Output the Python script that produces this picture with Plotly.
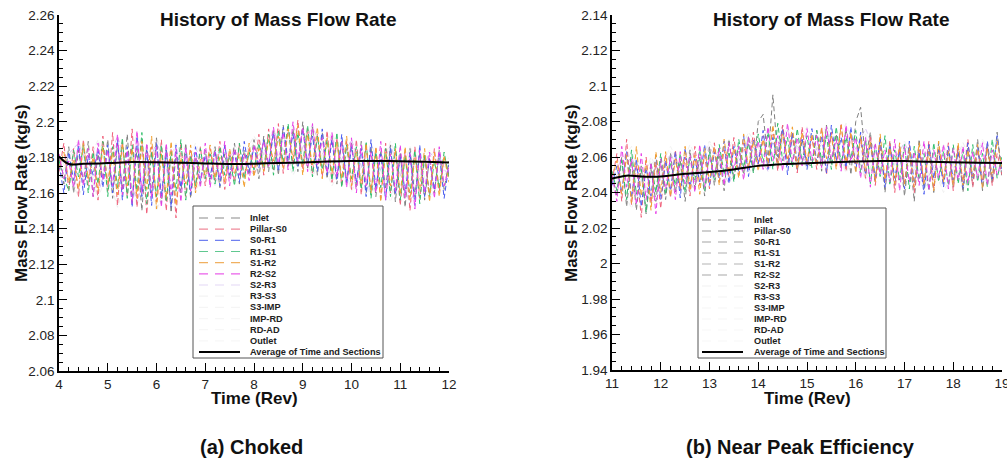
import numpy as np
import plotly.graph_objects as go

# ---------------- data ----------------
sections = ["Inlet", "Pillar-S0", "S0-R1", "R1-S1", "S1-R2", "R2-S2",
            "S2-R3", "R3-S3", "S3-IMP", "IMP-RD", "RD-AD", "Outlet"]
avg_name = "Average of Time and Sections"

# (a) Choked : time 4..12 rev, fine samples every 0.1 rev
t_a = np.linspace(4.0, 12.0, 81)
t_a_coarse = np.linspace(4.0, 12.0, 21)

a_inlet = [2.180, 2.165, 2.186, 2.160, 2.184, 2.166, 2.189, 2.158, 2.182, 2.168, 2.190,
           2.157, 2.188, 2.162, 2.193, 2.155, 2.185, 2.150, 2.187, 2.160, 2.191,
           2.154, 2.186, 2.149, 2.183, 2.160, 2.188, 2.157, 2.180, 2.165, 2.184,
           2.166, 2.186, 2.163, 2.182, 2.168, 2.188, 2.165, 2.184, 2.170, 2.190,
           2.168, 2.192, 2.172, 2.195, 2.170, 2.198, 2.175, 2.196, 2.172, 2.200,
           2.174, 2.197, 2.170, 2.194, 2.168, 2.192, 2.165, 2.190, 2.166, 2.188,
           2.163, 2.189, 2.160, 2.186, 2.158, 2.184, 2.162, 2.187, 2.155, 2.183,
           2.152, 2.185, 2.158, 2.182, 2.156, 2.180, 2.160, 2.184, 2.162, 2.178]
a_pillar = [2.172, 2.188, 2.162, 2.185, 2.158, 2.190, 2.164, 2.186, 2.156, 2.192, 2.161,
            2.194, 2.153, 2.189, 2.158, 2.196, 2.152, 2.190, 2.148, 2.186, 2.155,
            2.190, 2.150, 2.185, 2.146, 2.188, 2.158, 2.184, 2.162, 2.186, 2.164,
            2.185, 2.167, 2.189, 2.162, 2.183, 2.166, 2.187, 2.169, 2.185, 2.171,
            2.193, 2.170, 2.196, 2.173, 2.199, 2.171, 2.197, 2.176, 2.201, 2.173,
            2.196, 2.171, 2.193, 2.169, 2.195, 2.166, 2.191, 2.164, 2.189, 2.162,
            2.190, 2.159, 2.187, 2.161, 2.185, 2.157, 2.188, 2.160, 2.184, 2.153,
            2.183, 2.150, 2.186, 2.157, 2.181, 2.159, 2.185, 2.161, 2.180, 2.170]
a_s0r1 = [2.176, 2.160, 2.183, 2.167, 2.187, 2.159, 2.181, 2.170, 2.185, 2.163, 2.187,
          2.160, 2.190, 2.156, 2.186, 2.152, 2.192, 2.158, 2.184, 2.153, 2.188,
          2.158, 2.184, 2.152, 2.187, 2.163, 2.182, 2.159, 2.186, 2.167, 2.181,
          2.169, 2.184, 2.164, 2.187, 2.170, 2.183, 2.166, 2.189, 2.172, 2.186,
          2.174, 2.190, 2.176, 2.194, 2.172, 2.197, 2.178, 2.193, 2.175, 2.196,
          2.177, 2.192, 2.172, 2.196, 2.170, 2.190, 2.167, 2.193, 2.165, 2.186,
          2.166, 2.185, 2.158, 2.190, 2.162, 2.182, 2.156, 2.186, 2.159, 2.181,
          2.160, 2.183, 2.153, 2.187, 2.158, 2.179, 2.162, 2.182, 2.157, 2.176]
a_r1s1 = [2.178, 2.170, 2.161, 2.184, 2.169, 2.187, 2.160, 2.183, 2.165, 2.189, 2.158,
          2.186, 2.163, 2.191, 2.157, 2.187, 2.161, 2.194, 2.154, 2.183, 2.158,
          2.187, 2.155, 2.183, 2.161, 2.190, 2.156, 2.181, 2.164, 2.185, 2.168,
          2.182, 2.165, 2.186, 2.170, 2.181, 2.164, 2.188, 2.168, 2.183, 2.173,
          2.188, 2.174, 2.193, 2.170, 2.195, 2.177, 2.199, 2.172, 2.194, 2.176,
          2.198, 2.169, 2.192, 2.173, 2.190, 2.167, 2.194, 2.163, 2.187, 2.168,
          2.186, 2.162, 2.189, 2.157, 2.183, 2.163, 2.185, 2.158, 2.188, 2.156,
          2.181, 2.160, 2.184, 2.154, 2.182, 2.158, 2.178, 2.163, 2.183, 2.168]
a_s1r2 = [2.174, 2.183, 2.166, 2.179, 2.162, 2.188, 2.168, 2.180, 2.161, 2.186, 2.166,
          2.183, 2.159, 2.188, 2.164, 2.185, 2.157, 2.189, 2.162, 2.192, 2.151,
          2.182, 2.157, 2.189, 2.153, 2.180, 2.165, 2.187, 2.160, 2.179, 2.170,
          2.187, 2.168, 2.180, 2.166, 2.185, 2.171, 2.182, 2.163, 2.188, 2.169,
          2.185, 2.172, 2.190, 2.178, 2.192, 2.174, 2.196, 2.179, 2.198, 2.170,
          2.193, 2.175, 2.197, 2.168, 2.191, 2.171, 2.189, 2.168, 2.192, 2.164,
          2.183, 2.165, 2.188, 2.160, 2.186, 2.155, 2.183, 2.164, 2.185, 2.159,
          2.186, 2.156, 2.180, 2.162, 2.185, 2.155, 2.183, 2.158, 2.181, 2.166]
a_r2s2 = [2.182, 2.168, 2.178, 2.163, 2.190, 2.164, 2.185, 2.158, 2.188, 2.167, 2.184,
          2.164, 2.193, 2.159, 2.184, 2.154, 2.195, 2.160, 2.188, 2.157, 2.186,
          2.152, 2.188, 2.159, 2.185, 2.155, 2.186, 2.161, 2.183, 2.163, 2.188,
          2.163, 2.183, 2.168, 2.189, 2.164, 2.185, 2.170, 2.182, 2.167, 2.187,
          2.177, 2.189, 2.175, 2.197, 2.176, 2.194, 2.173, 2.200, 2.178, 2.197,
          2.172, 2.199, 2.175, 2.191, 2.171, 2.194, 2.169, 2.189, 2.163, 2.191,
          2.160, 2.187, 2.164, 2.183, 2.160, 2.189, 2.156, 2.182, 2.161, 2.187,
          2.157, 2.182, 2.151, 2.184, 2.160, 2.183, 2.157, 2.186, 2.164, 2.175]
# faint sections, coarser samples (every 0.4 rev)
a_s2r3 = [2.176, 2.188, 2.160, 2.192, 2.155, 2.189, 2.158, 2.185, 2.166, 2.184, 2.170,
          2.195, 2.173, 2.198, 2.168, 2.190, 2.160, 2.187, 2.154, 2.183, 2.170]
a_r3s3 = [2.170, 2.162, 2.190, 2.152, 2.186, 2.160, 2.188, 2.165, 2.186, 2.168, 2.189,
          2.176, 2.197, 2.170, 2.194, 2.162, 2.188, 2.158, 2.185, 2.160, 2.178]
a_s3imp = [2.182, 2.158, 2.185, 2.163, 2.193, 2.150, 2.182, 2.161, 2.183, 2.171, 2.192,
           2.172, 2.193, 2.175, 2.189, 2.166, 2.184, 2.162, 2.181, 2.157, 2.174]
a_imprd = [2.168, 2.190, 2.157, 2.187, 2.161, 2.191, 2.163, 2.181, 2.168, 2.186, 2.174,
           2.196, 2.170, 2.192, 2.164, 2.186, 2.158, 2.189, 2.162, 2.184, 2.172]
a_rdad = [2.185, 2.166, 2.182, 2.156, 2.189, 2.157, 2.186, 2.167, 2.183, 2.172, 2.186,
          2.178, 2.199, 2.169, 2.193, 2.161, 2.182, 2.155, 2.186, 2.163, 2.180]
a_outlet = [2.172, 2.184, 2.164, 2.188, 2.153, 2.186, 2.162, 2.188, 2.164, 2.187, 2.171,
            2.193, 2.177, 2.195, 2.166, 2.188, 2.163, 2.184, 2.158, 2.182, 2.169]
a_avg_t = [4.0, 4.2, 4.5, 5.0, 5.5, 6.0, 6.5, 7.0, 7.5, 8.0, 8.5, 9.0, 9.5, 10.0, 10.5, 11.0, 11.5, 12.0]
a_avg = [2.1805, 2.1763, 2.1764, 2.1768, 2.1774, 2.1773, 2.1770, 2.1766, 2.1763, 2.1765,
         2.1769, 2.1772, 2.1777, 2.1780, 2.1780, 2.1778, 2.1775, 2.1772]

# (b) Near peak efficiency : time 11..19 rev
t_b = np.linspace(11.0, 19.0, 81)
t_b_coarse = np.linspace(11.0, 19.0, 21)

b_inlet = [2.050, 2.038, 2.060, 2.032, 2.058, 2.030, 2.055, 2.028, 2.053, 2.035, 2.058,
           2.036, 2.062, 2.040, 2.058, 2.035, 2.064, 2.042, 2.060, 2.038, 2.066,
           2.044, 2.062, 2.041, 2.070, 2.047, 2.066, 2.050, 2.072, 2.052, 2.080,
           2.084, 2.058, 2.095, 2.060, 2.078, 2.055, 2.072, 2.052, 2.070, 2.056,
           2.055, 2.075, 2.052, 2.078, 2.056, 2.073, 2.054, 2.076, 2.050, 2.080,
           2.088, 2.058, 2.074, 2.046, 2.070, 2.040, 2.068, 2.044, 2.066, 2.038,
           2.064, 2.035, 2.070, 2.042, 2.066, 2.040, 2.068, 2.045, 2.064, 2.043,
           2.067, 2.040, 2.065, 2.044, 2.070, 2.041, 2.066, 2.045, 2.074, 2.048]
b_pillar = [2.046, 2.062, 2.035, 2.070, 2.033, 2.056, 2.026, 2.060, 2.034, 2.057, 2.031,
            2.061, 2.037, 2.064, 2.041, 2.060, 2.038, 2.066, 2.044, 2.061, 2.042,
            2.068, 2.046, 2.064, 2.049, 2.071, 2.050, 2.068, 2.053, 2.074, 2.055,
            2.072, 2.054, 2.076, 2.052, 2.078, 2.056, 2.073, 2.051, 2.077, 2.055,
            2.071, 2.053, 2.077, 2.050, 2.074, 2.055, 2.079, 2.052, 2.073, 2.056,
            2.070, 2.048, 2.072, 2.044, 2.066, 2.046, 2.069, 2.040, 2.065, 2.045,
            2.067, 2.040, 2.064, 2.046, 2.069, 2.042, 2.065, 2.047, 2.068, 2.041,
            2.066, 2.046, 2.070, 2.043, 2.064, 2.047, 2.068, 2.044, 2.062, 2.050]
b_s0r1 = [2.044, 2.055, 2.040, 2.063, 2.037, 2.059, 2.032, 2.054, 2.038, 2.061, 2.036,
          2.058, 2.041, 2.063, 2.037, 2.065, 2.043, 2.059, 2.046, 2.067, 2.044,
          2.063, 2.048, 2.069, 2.045, 2.066, 2.052, 2.072, 2.049, 2.070, 2.056,
          2.075, 2.053, 2.071, 2.057, 2.076, 2.050, 2.074, 2.058, 2.070, 2.053,
          2.076, 2.057, 2.072, 2.051, 2.078, 2.058, 2.071, 2.054, 2.077, 2.052,
          2.074, 2.050, 2.068, 2.047, 2.071, 2.043, 2.066, 2.048, 2.063, 2.042,
          2.069, 2.045, 2.063, 2.039, 2.067, 2.048, 2.064, 2.043, 2.066, 2.047,
          2.063, 2.042, 2.068, 2.048, 2.066, 2.043, 2.069, 2.047, 2.072, 2.052]
b_r1s1 = [2.052, 2.041, 2.058, 2.036, 2.064, 2.039, 2.053, 2.029, 2.057, 2.040, 2.062,
          2.039, 2.057, 2.044, 2.062, 2.040, 2.060, 2.047, 2.064, 2.041, 2.063,
          2.047, 2.067, 2.050, 2.063, 2.046, 2.070, 2.054, 2.068, 2.051, 2.073,
          2.057, 2.074, 2.053, 2.079, 2.058, 2.071, 2.054, 2.076, 2.057, 2.072,
          2.054, 2.075, 2.058, 2.072, 2.053, 2.077, 2.056, 2.071, 2.059, 2.075,
          2.051, 2.070, 2.045, 2.067, 2.049, 2.072, 2.044, 2.064, 2.047, 2.067,
          2.042, 2.066, 2.047, 2.062, 2.041, 2.068, 2.046, 2.063, 2.044, 2.067,
          2.045, 2.064, 2.041, 2.067, 2.046, 2.062, 2.043, 2.070, 2.048, 2.060]
b_s1r2 = [2.048, 2.058, 2.039, 2.061, 2.034, 2.066, 2.038, 2.058, 2.030, 2.063, 2.040,
          2.063, 2.038, 2.059, 2.043, 2.066, 2.041, 2.061, 2.039, 2.065, 2.046,
          2.066, 2.044, 2.070, 2.051, 2.065, 2.048, 2.073, 2.054, 2.069, 2.052,
          2.070, 2.056, 2.078, 2.055, 2.073, 2.059, 2.077, 2.054, 2.074, 2.058,
          2.073, 2.055, 2.076, 2.059, 2.072, 2.053, 2.078, 2.057, 2.074, 2.051,
          2.072, 2.052, 2.069, 2.046, 2.073, 2.047, 2.065, 2.045, 2.068, 2.044,
          2.065, 2.043, 2.068, 2.045, 2.063, 2.041, 2.069, 2.046, 2.063, 2.044,
          2.068, 2.044, 2.064, 2.049, 2.067, 2.042, 2.065, 2.049, 2.069, 2.054]
b_r2s2 = [2.050, 2.035, 2.066, 2.043, 2.059, 2.033, 2.062, 2.036, 2.057, 2.028, 2.059,
          2.042, 2.060, 2.036, 2.063, 2.045, 2.061, 2.040, 2.067, 2.043, 2.060,
          2.049, 2.065, 2.044, 2.068, 2.053, 2.066, 2.047, 2.071, 2.055, 2.069,
          2.053, 2.077, 2.058, 2.072, 2.052, 2.079, 2.057, 2.071, 2.055, 2.076,
          2.058, 2.072, 2.054, 2.077, 2.059, 2.070, 2.052, 2.078, 2.057, 2.071,
          2.048, 2.071, 2.043, 2.068, 2.050, 2.064, 2.046, 2.070, 2.041, 2.066,
          2.046, 2.063, 2.044, 2.069, 2.041, 2.064, 2.048, 2.067, 2.042, 2.065,
          2.047, 2.066, 2.045, 2.063, 2.048, 2.068, 2.044, 2.064, 2.050, 2.058]
b_s2r3 = [2.046, 2.060, 2.034, 2.062, 2.040, 2.066, 2.045, 2.070, 2.052, 2.075, 2.056,
          2.073, 2.054, 2.076, 2.050, 2.068, 2.044, 2.066, 2.046, 2.067, 2.052]
b_r3s3 = [2.052, 2.036, 2.058, 2.042, 2.064, 2.046, 2.067, 2.050, 2.072, 2.055, 2.077,
          2.053, 2.075, 2.049, 2.070, 2.042, 2.065, 2.043, 2.068, 2.045, 2.058]
b_s3imp = [2.040, 2.063, 2.037, 2.061, 2.044, 2.069, 2.048, 2.074, 2.057, 2.071, 2.054,
           2.078, 2.052, 2.072, 2.046, 2.066, 2.041, 2.064, 2.044, 2.069, 2.050]
b_imprd = [2.055, 2.031, 2.060, 2.039, 2.067, 2.044, 2.070, 2.053, 2.076, 2.058, 2.074,
           2.055, 2.079, 2.047, 2.071, 2.045, 2.068, 2.040, 2.066, 2.047, 2.056]
b_rdad = [2.049, 2.066, 2.038, 2.063, 2.047, 2.065, 2.049, 2.071, 2.054, 2.077, 2.053,
          2.072, 2.058, 2.068, 2.048, 2.064, 2.046, 2.067, 2.042, 2.065, 2.054]
b_outlet = [2.044, 2.057, 2.041, 2.066, 2.043, 2.068, 2.051, 2.069, 2.056, 2.073, 2.059,
            2.076, 2.051, 2.073, 2.044, 2.069, 2.047, 2.062, 2.048, 2.070, 2.053]
b_avg_t = [11.0, 11.3, 11.6, 12.0, 12.5, 13.0, 13.5, 14.0, 14.5, 15.0, 15.5, 16.0, 16.5,
           17.0, 17.5, 18.0, 18.5, 19.0]
b_avg = [2.0478, 2.0495, 2.0490, 2.0490, 2.0505, 2.0515, 2.0530, 2.0550, 2.0560, 2.0565,
         2.0570, 2.0575, 2.0578, 2.0577, 2.0573, 2.0570, 2.0568, 2.0566]

x_ticks = {"a": (4, 12), "b": (11, 19)}
y_ranges = {"a": (2.06, 2.26), "b": (1.94, 2.14)}
panel_title = "History of Mass Flow Rate"
x_title = "Time (Rev)"
y_title = "Mass Flow Rate (kg/s)"
captions = ["(a) Choked", "(b) Near Peak Efficiency"]

# ---------------- styling ----------------
W, H = 1007, 466
FONT = "Liberation Sans, Arial, sans-serif"
trace_colors = ["#808080", "#f0607a", "#4a5cf0", "#2fbf6a", "#f2a030", "#e83ee8",
                "#d9c4f2", "#ececec", "#eeeeee", "#f0f0f0", "#f2f2f2", "#f4f4f4"]
legend_colors_a = ["#8a8a8a", "#f08a9a", "#7080f0", "#60c890", "#f0b060", "#ea60ea",
                   "#e4d8f6", "#f4f4f4", "#f5f5f5", "#f6f6f6", "#f7f7f7", "#f8f8f8"]
legend_colors_b = ["#8c8c8c", "#a0a0a0", "#a4a4a4", "#b0b0b0", "#b4b4b4", "#a8a8a8",
                   "#f2f2f2", "#f4f4f4", "#f5f5f5", "#f6f6f6", "#f7f7f7", "#f8f8f8"]

panel_a = [(t_a, a_inlet), (t_a, a_pillar), (t_a, a_s0r1), (t_a, a_r1s1), (t_a, a_s1r2),
           (t_a, a_r2s2), (t_a_coarse, a_s2r3), (t_a_coarse, a_r3s3), (t_a_coarse, a_s3imp),
           (t_a_coarse, a_imprd), (t_a_coarse, a_rdad), (t_a_coarse, a_outlet)]
panel_b = [(t_b, b_inlet), (t_b, b_pillar), (t_b, b_s0r1), (t_b, b_r1s1), (t_b, b_s1r2),
           (t_b, b_r2s2), (t_b_coarse, b_s2r3), (t_b_coarse, b_r3s3), (t_b_coarse, b_s3imp),
           (t_b_coarse, b_imprd), (t_b_coarse, b_rdad), (t_b_coarse, b_outlet)]

fig = go.Figure()
order = [11, 10, 9, 8, 7, 6, 0, 1, 2, 3, 4, 5]
for xa, ya, panel, at, av in [("x", "y", panel_a, a_avg_t, a_avg),
                              ("x2", "y2", panel_b, b_avg_t, b_avg)]:
    for i in order:
        tx, vals = panel[i]
        fig.add_trace(go.Scatter(x=tx, y=vals, mode="lines", name=sections[i],
                                 xaxis=xa, yaxis=ya, showlegend=False,
                                 line=dict(color=trace_colors[i], width=1, dash="5px,3px")))
    fig.add_trace(go.Scatter(x=at, y=av, mode="lines", name=avg_name, xaxis=xa, yaxis=ya,
                             showlegend=False, line=dict(color="black", width=2, shape="spline")))


def ax_common(rng, dtick, mdtick):
    return dict(range=list(rng), dtick=dtick, tick0=rng[0], ticks="inside", ticklen=8,
                tickwidth=1.3, tickcolor="black", showline=True, linewidth=1.5,
                linecolor="black", showgrid=False, zeroline=False, automargin=False,
                ticklabeloverflow="allow",
                minor=dict(dtick=mdtick, ticks="inside", ticklen=4, tickcolor="black",
                           tickwidth=1, showgrid=False),
                tickfont=dict(family=FONT, size=13.5, color="#222"))


fig.update_layout(
    width=W, height=H, margin=dict(l=0, r=0, t=0, b=0, autoexpand=False),
    paper_bgcolor="white", plot_bgcolor="white", showlegend=False,
    xaxis=dict(domain=[59 / W, 449 / W], anchor="y", **ax_common(x_ticks["a"], 1, 0.2)),
    yaxis=dict(domain=[1 - 371 / H, 1 - 15 / H], anchor="x", **ax_common(y_ranges["a"], 0.02, 0.005)),
    xaxis2=dict(domain=[612 / W, 1002 / W], anchor="y2", **ax_common(x_ticks["b"], 1, 0.2)),
    yaxis2=dict(domain=[1 - 370 / H, 1 - 15 / H], anchor="x2", **ax_common(y_ranges["b"], 0.02, 0.005)),
)


def P(x, y):
    return x / W, 1 - y / H


annots = []
shapes = []


def txt(x, y, s, size, bold=True, angle=0, xanchor="center", color="#111"):
    px_, py_ = P(x, y)
    annots.append(dict(x=px_, y=py_, xref="paper", yref="paper", text=("<b>%s</b>" % s) if bold else s,
                       showarrow=False, textangle=angle, xanchor=xanchor, yanchor="middle",
                       font=dict(family=FONT, size=size, color=color)))


# titles & axis titles
txt(278, 19, panel_title, 19)
txt(831, 19, panel_title, 19)
txt(254, 398, x_title, 17)
txt(807, 398, x_title, 17)
txt(21, 193, y_title, 17, angle=-90)
txt(571, 193, y_title, 17, angle=-90)
txt(251, 447, captions[0], 20)
txt(800, 447, captions[1], 20)

# custom legends
for (bx0, by0, bx1, by1, lx0, lx1, tx0, ty0, step, lcols) in [
        (193, 206, 383, 358, 199, 240, 248, 218, 11.17, legend_colors_a),
        (698, 208, 886, 358, 702, 743, 752, 220, 11.0, legend_colors_b)]:
    x0, y0 = P(bx0, by1)
    x1, y1 = P(bx1, by0)
    shapes.append(dict(type="rect", xref="paper", yref="paper", x0=x0, y0=y0, x1=x1, y1=y1,
                       line=dict(color="#555", width=1), fillcolor="white", layer="above"))
    names = sections + [avg_name]
    for k, nm in enumerate(names):
        yy = ty0 + k * step
        a0, b0 = P(lx0, yy)
        a1, _ = P(lx1, yy)
        if k < len(sections):
            shapes.append(dict(type="line", xref="paper", yref="paper", x0=a0, x1=a1, y0=b0, y1=b0,
                               line=dict(color=lcols[k], width=1.2, dash="9px,7px"), layer="above"))
        else:
            shapes.append(dict(type="line", xref="paper", yref="paper", x0=a0, x1=a1, y0=b0, y1=b0,
                               line=dict(color="black", width=2), layer="above"))
        txt(tx0, yy, nm, 9.2, xanchor="left", color="#222")

fig.update_layout(annotations=annots, shapes=shapes)
fig.write_html("out.html", config={"displayModeBar": False},
               post_script="document.body.style.margin='0';")
